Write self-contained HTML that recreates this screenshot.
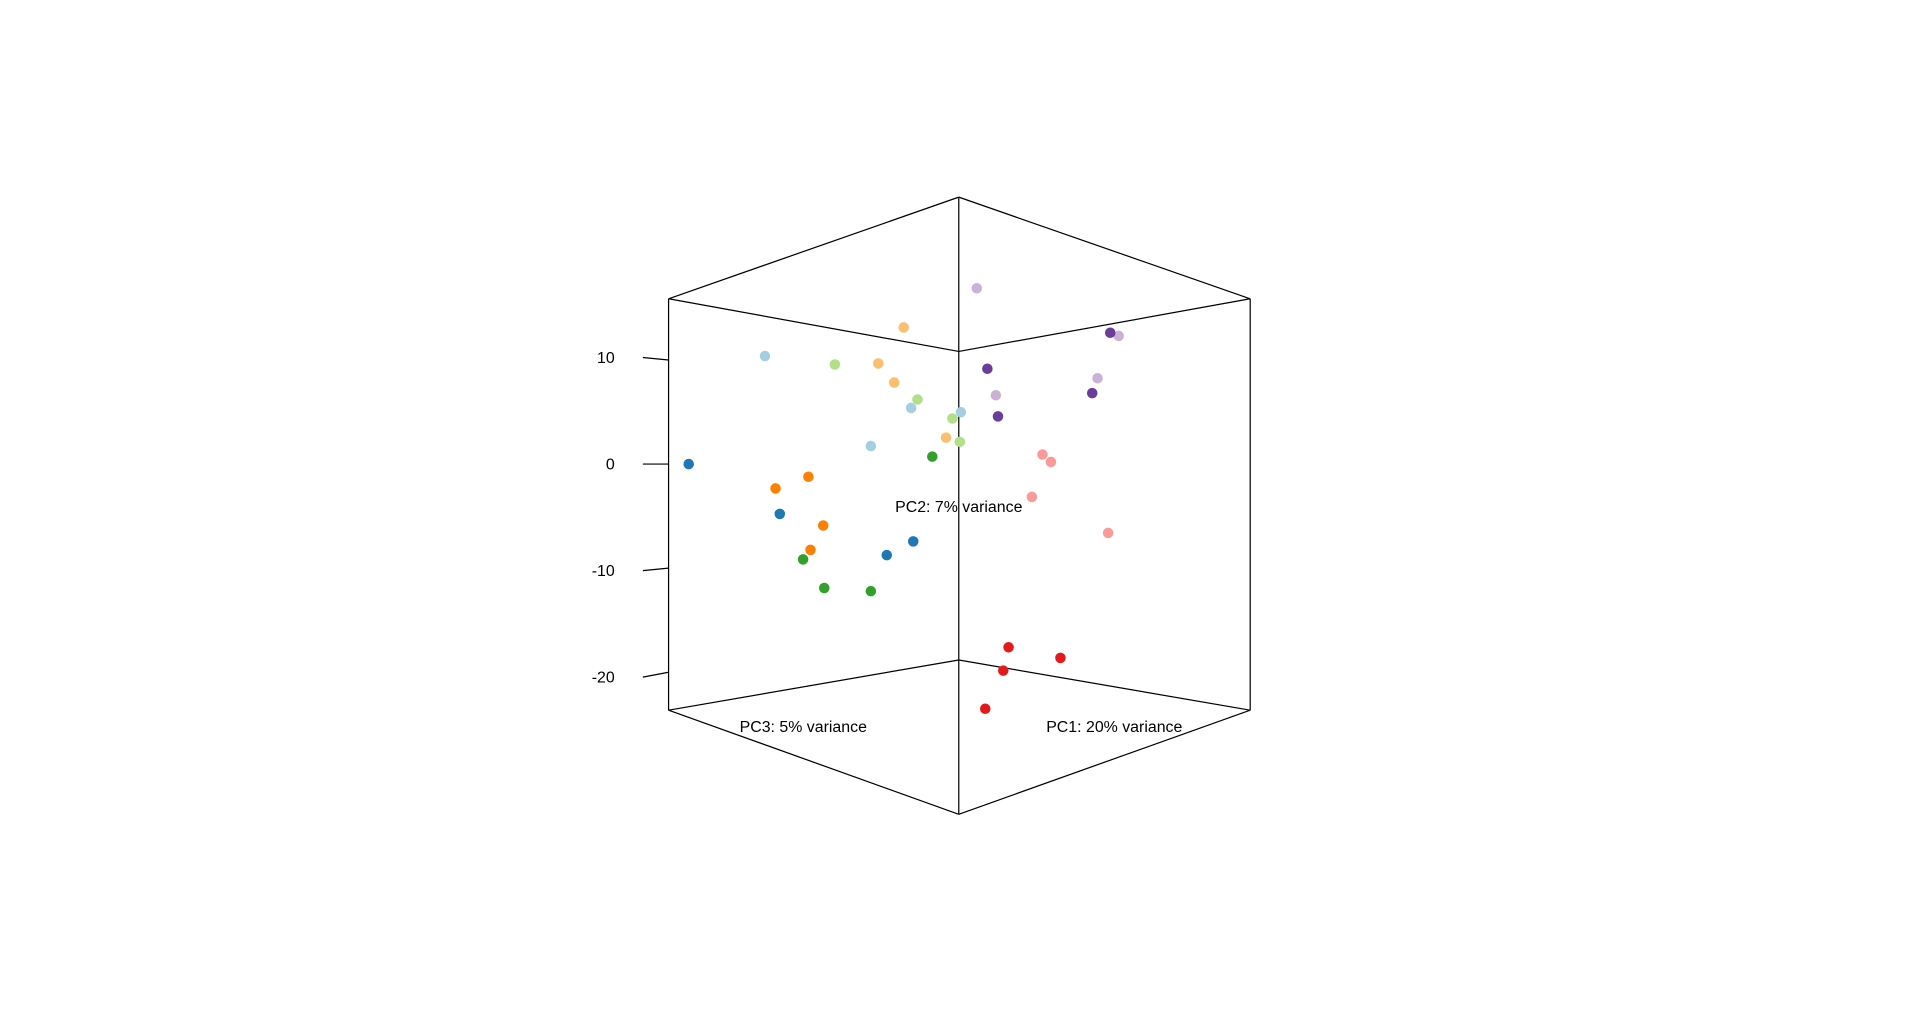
<!DOCTYPE html>
<html><head><meta charset="utf-8"><style>
html,body{margin:0;padding:0;background:#fff;}
svg{display:block;}
text{font-family:"Liberation Sans",sans-serif;font-size:13px;fill:#000;}
</style></head><body>
<svg id="chart" width="1920" height="1013" viewBox="0 0 1568 827.3" xmlns="http://www.w3.org/2000/svg">
<g id="box" stroke="#000" stroke-width="1" fill="none"></g>
<g id="ticks"></g>
<text x="783" y="418" text-anchor="middle">PC2: 7% variance</text>
<text x="656" y="598" text-anchor="middle">PC3: 5% variance</text>
<text x="910" y="598" text-anchor="middle">PC1: 20% variance</text>
<g id="pts"></g>
</svg>
<script>
const groups = ["lightpurple","darkpurple","lightorange","lightblue","lightgreen","green","blue","orange","pink","red"];
const groupColors = ["#CAB2D6","#6A3D9A","#FDBF6F","#A6CEE3","#B2DF8A","#33A02C","#1F78B4","#FF7F00","#FB9A99","#E31A1C"];
const xValues = [
 [1.7,15.1,13.1,3.5],[14.3,2.7,12.6,3.7],[-5.2,-7.6,-6.1,-1.2],[-18.3,-4.5,0.2,-8.3],
 [-11.7,-3.9,-0.6,0.1],[-2.5,-14.7,-12.7,-8.3],[-25.5,-16.9,-4.3,-6.8],[-14.2,-17.3,-12.8,-14.0],
 [7.9,8.7,6.9,14.1],[4.7,9.6,4.2,2.5]];
const yValues = [
 [16.6,12.1,8.1,6.5],[12.4,9.0,6.7,4.5],[12.9,9.5,7.7,2.5],[10.2,5.3,4.9,1.7],
 [9.4,6.1,4.3,2.1],[0.7,-9.0,-11.7,-12.0],[0,-4.7,-7.3,-8.6],[-1.2,-2.3,-5.8,-8.1],
 [0.9,0.2,-3.1,-6.5],[-17.3,-18.3,-19.5,-23.1]];
const yTicks = [10,0,-10,-20];
const yTickLabels = ["10","0","-10","-20"];

const NS="http://www.w3.org/2000/svg";
const sx = v => 783 + v*8.65;
const sy = v => 379 - v*8.65;

const box=document.getElementById('box');
const segs=[[546,244,783,161],[783,161,1021,244],[546,244,783,287],[783,287,1021,244],
[546,244,546,580],[1021,244,1021,580],[783,161,783,665],[546,580,783,539],[783,539,1021,580],
[546,580,783,665],[783,665,1021,580]];
segs.forEach(s=>{const l=document.createElementNS(NS,'line');
l.setAttribute('x1',s[0]);l.setAttribute('y1',s[1]);l.setAttribute('x2',s[2]);l.setAttribute('y2',s[3]);


box.appendChild(l);});

const tg=document.getElementById('ticks');
yTicks.forEach((t,i)=>{
 const yb = sy(t) + (t)*0.02*8.65*0 ; 
 const slope = t*0.03;
 const l=document.createElementNS(NS,'line');
 l.setAttribute('x1',525);l.setAttribute('y1',yb - slope*0 - t*0.05);
 l.setAttribute('x2',546);l.setAttribute('y2',yb + t*0.15);
 l.setAttribute('stroke','#000');
 
 
 tg.appendChild(l);
 const tx=document.createElementNS(NS,'text');
 tx.setAttribute('x',502);tx.setAttribute('y',yb+4.5 - t*0.05);
 tx.setAttribute('text-anchor','end');
 tx.textContent=yTickLabels[i];
 
 
 tg.appendChild(tx);
});

const pg=document.getElementById('pts');
groups.forEach((g,gi)=>{
 xValues[gi].forEach((xv,j)=>{
  const c=document.createElementNS(NS,'circle');
  c.setAttribute('cx',sx(xv));c.setAttribute('cy',sy(yValues[gi][j]));
  c.setAttribute('r',4.3);c.setAttribute('fill',groupColors[gi]);
  
  
  pg.appendChild(c);
 });
});
</script>
</body></html>
